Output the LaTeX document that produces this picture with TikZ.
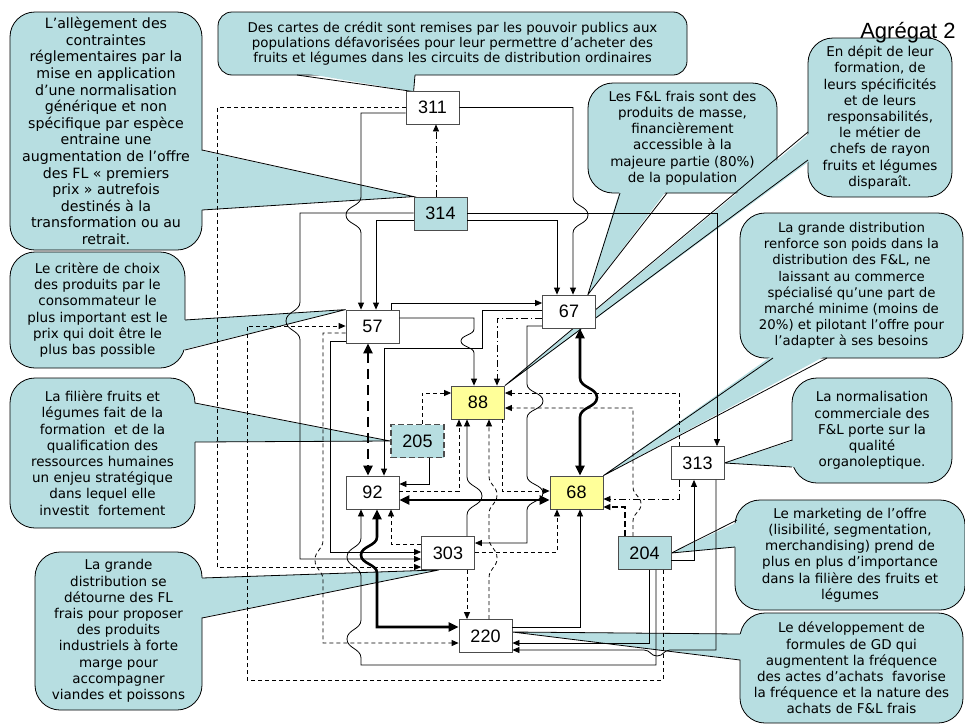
\documentclass[tikz,border=0pt]{standalone}
\usepackage{fontspec}
\setmainfont{DejaVu Sans}
\newfontfamily\chiffres{Liberation Sans}
\usetikzlibrary{arrows.meta,calc}

\definecolor{bleubulle}{RGB}{183,222,225}
\definecolor{jaune}{RGB}{255,255,153}

\pgfdeclarelayer{fond}
\pgfsetlayers{fond,main}

% bosse d'un trait au croisement : vertical (decalage, hauteur), horizontal (decalage, longueur)
\newcommand\sautv[2]{.. controls +(0,{(#2)/4}) and +(0,{-(#2)/4}) .. ++(#1,{(#2)/2})
  .. controls +(0,{(#2)/4}) and +(0,{-(#2)/4}) .. ++({-(#1)},{(#2)/2})}
\newcommand\sauth[2]{.. controls +({(#2)/4},0) and +({-(#2)/4},0) .. ++({(#2)/2},#1)
  .. controls +({(#2)/4},0) and +({-(#2)/4},0) .. ++({(#2)/2},{-(#1)})}

\tikzset{
  var/.style={draw=black!70, line width=.8pt, fill=white, minimum width=53pt,
    minimum height=33pt, inner sep=0pt, font=\chiffres\fontsize{18}{18}\selectfont},
  levier/.style={var, fill=bleubulle},
  cible/.style={var, fill=jaune},
  bulle/.style={draw=black, line width=.8pt, fill=bleubulle, rounded corners=25pt,
    align=center, inner sep=0pt, font=\fontsize{13.5}{16.2}\selectfont},
  bec/.style={draw=black, line width=.8pt},
  lien/.style={draw=black, line width=.8pt, -{Triangle[length=7pt,width=6pt]}},
  pointille/.style={lien, dash pattern=on 4pt off 3pt},
  mixte/.style={lien, dash pattern=on 7pt off 3pt on 1.5pt off 3pt},
  fort/.style={draw=black, line width=2.6pt,
    {Triangle[length=10pt,width=9pt]}-{Triangle[length=10pt,width=9pt]}},
}

\begin{document}
\begin{tikzpicture}[x=1pt,y=-1pt]
\useasboundingbox (0,0) rectangle (965,723);

% variables
\node[var]    (n311) at (432.5,107.5) {311};
\node[levier] (n314) at (440.5,213.5) {314};
\node[var]    (n57)  at (372.5,326.5) {57};
\node[var]    (n67)  at (569,311.5)   {67};
\node[cible]  (n88)  at (478,402.5)   {88};
\node[levier, line width=1.8pt, dash pattern=on 6pt off 3pt] (n205) at (417.5,441) {205};
\node[var]    (n92)  at (372.5,492.5) {92};
\node[cible]  (n68)  at (576.5,492.5) {68};
\node[var]    (n313) at (697.5,463)   {313};
\node[var]    (n303) at (448,553)     {303};
\node[levier] (n204) at (644.5,553)   {204};
\node[var]    (n220) at (485.5,636)   {220};

\node[font=\chiffres\fontsize{22}{22}\selectfont] (titre) at (908,33) {Agrégat 2};

% liens pleins
\draw[lien] (n311.west |- 0,113) -- (361,113) -- (361,197) \sautv{-15}{36} -- (n57.north -| 361,0);
\draw[lien] (n311.east) -- (n311.east -| 573,0) -- (573,197) \sautv{15}{36} -- (n67.north -| 573,0);
\draw[lien] (n314.west |- 0,220) -| (n57.north -| 376,0);
\draw[lien] (n314.west |- 0,213) -- (300,213) -- (300,302) \sautv{-14}{38} -- (300,559) -- (n303.west |- 0,559);
\draw[lien] (n314.east |- 0,220) -| (n67.north -| 557,0);
\draw[lien] (n314.east |- 0,213) -| (n313.north -| 717,0);
\draw[lien] (n57.north -| 391,0) |- (n67.west |- 0,303);
\draw[lien] (n57.east |- 0,318) -- (474,318) -- (474,329) \sautv{-13}{24} -- (n88.north -| 474,0);
\draw[lien] (n67.west |- 0,310) -- (482,310) -- (482,348) -- (384,348) -- (n92.north -| 384,0);
\draw[lien] (n67.west |- 0,326) -- (527,326) -- (527,384) \sautv{16}{34} -- (527,476) \sautv{16}{34}
  -- (527,543) -- (n303.east |- 0,543);
\draw[lien] (n205.south -| 429,0) |- (n92.east |- 0,484);
\draw[lien] (n303.north -| 467,0) -- (467,515) \sautv{15}{-38} -- (n88.south -| 467,0);
\draw[lien] (n220.east |- 0,627) -| (n68.south -| 580,0);
\draw[lien] (n204.east |- 0,560) -| (n313.south -| 694,0);
\draw[lien] (n313.south -| 716,0) -- (716,650) -- (670,650) \sauth{6}{-26} -- (n220.east |- 0,650);
\draw[lien] (n204.south -| 649,0) |- (n220.east |- 0,643);
\draw[lien] (n204.south -| 656,0) -- (656,665) -- (361,665) -- (361,658) \sautv{-14}{-38}
  -- (361,576) \sautv{-14}{-38} -- (n92.south -| 361,0);
\draw[lien] (n57.west |- 0,341) -- (330,341) -- (330,552) -- (n303.west |- 0,552);

% liens forts
\draw[fort] (n67.south -| 580,0) -- (580,378) \sautv{17}{39} -- (n68.north -| 580,0);
\draw[fort] (n92.east |- 0,500) -- (n68.west |- 0,500);
\draw[fort] (n92.south -| 377,0) -- (377,537) \sautv{-16}{36} -- (377,627) -- (n220.west |- 0,627);
\draw[fort, dash pattern=on 10pt off 6pt] (n57.south -| 368,0) -- (n92.north -| 368,0);

% liens en pointilles
\draw[pointille] (n311.west) -| (217,567) -- (n303.west |- 0,567);
\draw[pointille] (n204.south -| 663,0) -- (663,680) -- (247,680) -- (247,326) -- (n57.west |- 0,326);
\draw[pointille] (n57.west |- 0,333) -- (323,333) -- (323,540) \sautv{-8}{40} -- (323,643) -- (n220.west |- 0,643);
\draw[pointille] (n313.north -| 679,0) |- (n88.east |- 0,393);
\draw[pointille] (n204.north -| 633,0) -- (633,521) \sautv{8}{-34} -- (633,408) -- (n88.east |- 0,408);
\draw[pointille] (n205.north -| 422,0) |- (n88.west |- 0,393);
\draw[pointille] (n92.east |- 0,491) -| (n88.south -| 459,0);
\draw[pointille] (n220.north -| 489,0) -- (489,578) \sautv{8}{-40} -- (489,514) \sautv{8}{-38} -- (n88.south -| 489,0);
\draw[pointille] (n88.south -| 502,0) |- (n68.west |- 0,491);
\draw[pointille] (n303.east |- 0,552) -| (n68.south -| 557,0);
\draw[pointille] (n303.west |- 0,544) -| (n92.south -| 391,0);
\draw[pointille] (n303.south -| 467,0) -- (n220.north -| 467,0);
\draw[pointille, line width=1.2pt, dash pattern=on 6pt off 3pt] (n204.north -| 625,0) |- (n68.east |- 0,507);

% liens mixtes
\draw[mixte] (n314.north -| 436,0) -- (n311.south -| 436,0);
\draw[mixte] (n67.west |- 0,318) -| (n88.north -| 497,0);
\draw[mixte] (n313.south -| 679,0) |- (n68.east |- 0,499);

% bulles
\begin{pgfonlayer}{fond}
\fill[white] (0,0) rectangle (965,723);

\node[bulle, font=\fontsize{14.2}{16.6}\selectfont, minimum width=192pt, minimum height=238pt] (bAlleg) at (106,131)
  {L’allègement des\\contraintes\\réglementaires par la\\mise en application\\d’une normalisation\\
   générique et non\\spécifique par espèce\\entraine une\\augmentation de l’offre\\des FL « premiers\\
   prix » autrefois\\destinés à la\\transformation ou au\\retrait.};
\fill[bleubulle] (199,150) -- (n314.north west) -- (199,210) -- cycle;
\draw[bec] (202,150) -- (n314.north west) -- (202,210);

\node[bulle, font=\fontsize{13.4}{15.4}\selectfont, rounded corners=14pt, minimum width=469pt, minimum height=63pt] (bCartes) at (452.5,43.5)
  {Des cartes de crédit sont remises par les pouvoir publics aux\\
   populations défavorisées pour leur permettre d’acheter des\\
   fruits et légumes dans les circuits de distribution ordinaires};
\fill[bleubulle] (297,72) -- ($(n311.north west)+(8,1)$) -- (415,72) -- cycle;
\draw[bec] (297,75) -- ($(n311.north west)+(8,1)$) -- (415,75);

\node[bulle, minimum width=189pt, minimum height=110pt] (bMasse) at (682.5,138)
  {Les F\&L frais sont des\\produits de masse,\\financièrement\\accessible à la\\
   majeure partie (80\%)\\de la population};
\fill[bleubulle] (620,190) -- ($(n67.north east)+(-8,0)$) -- (667,190) -- cycle;
\draw[bec] (620,193) -- ($(n67.north east)+(-8,0)$) -- (667,193);

\node[bulle, minimum width=144pt, minimum height=159pt] (bMetier) at (880,117.5)
  {En dépit de leur\\formation, de\\leurs spécificités\\et de leurs\\responsabilités,\\
   le métier de\\chefs de rayon\\fruits et légumes\\disparaît.};
\fill[bleubulle] (811,132) -- (n88.north east) -- (811,160) -- cycle;
\draw[bec] (808,132) -- (n88.north east) -- (808,160);

\node[bulle, font=\fontsize{13.3}{16.2}\selectfont, minimum width=223pt, minimum height=145pt] (bPoids) at (851.5,285.5)
  {La grande distribution\\renforce son poids dans la\\distribution des F\&L, ne\\
   laissant au commerce\\spécialisé qu’une part de\\marché minime (moins de\\
   20\%) et pilotant l’offre pour\\l’adapter à ses besoins};
\fill[bleubulle] (773,355) -- (n68.north east) -- (827,355) -- cycle;
\draw[bec] (773,358) -- (n68.north east) -- (827,358);

\node[bulle, minimum width=175pt, minimum height=116pt] (bPrix) at (97.5,310)
  {Le critère de choix\\des produits par le\\consommateur le\\plus important est le\\
   prix qui doit être le\\plus bas possible};
\fill[bleubulle] (182,320) -- (n57.north west) -- (182,350) -- cycle;
\draw[bec] (185,320) -- (n57.north west) -- (185,350);

\node[bulle, minimum width=185pt, minimum height=150pt] (bFormation) at (102.5,453)
  {La filière fruits et\\légumes fait de la\\formation \ et de la\\qualification des\\
   ressources humaines\\un enjeu stratégique\\dans lequel elle\\investit \ fortement};
\fill[bleubulle] (192,403) -- (n205.west) -- (192,442) -- cycle;
\draw[bec] (195,403) -- (n205.west) -- (195,442);

\node[bulle, minimum width=167pt, minimum height=158pt] (bMarge) at (118.5,631)
  {La grande\\distribution se\\détourne des FL\\frais pour proposer\\des produits\\
   industriels à forte\\marge pour\\accompagner\\viandes et poissons};
\fill[bleubulle] (199,578) -- ($(n303.south west)+(18,0)$) -- (199,618) -- cycle;
\draw[bec] (202,578) -- ($(n303.south west)+(18,0)$) -- (202,618);

\node[bulle, minimum width=160pt, minimum height=105pt] (bOrgano) at (872,430.5)
  {La normalisation\\commerciale des\\F\&L porte sur la\\qualité\\organoleptique.};
\fill[bleubulle] (795,440) -- (n313.east) -- (795,467) -- cycle;
\draw[bec] (792,440) -- (n313.east) -- (792,467);

\node[bulle, minimum width=230pt, minimum height=110pt] (bMarketing) at (850,555)
  {Le marketing de l’offre\\(lisibilité, segmentation,\\merchandising) prend de\\
   plus en plus d’importance\\dans la filière des fruits et\\légumes};
\fill[bleubulle] (740,521) -- (n204.east) -- (738,547) -- cycle;
\draw[bec] (737,520) -- (n204.east) -- (735,547);

\node[bulle, minimum width=223pt, minimum height=110pt] (bFrequence) at (851.5,668)
  {Le développement de\\formules de GD qui\\augmentent la fréquence\\
   des actes d'achats \ favorise\\la fréquence et la nature des\\achats de F\&L frais};
\fill[bleubulle] (743,634) -- ($(n220.east)+(0,-4)$) -- (743,660) -- cycle;
\draw[bec] (740,634) -- ($(n220.east)+(0,-4)$) -- (740,660);
\end{pgfonlayer}
\end{tikzpicture}
\end{document}
